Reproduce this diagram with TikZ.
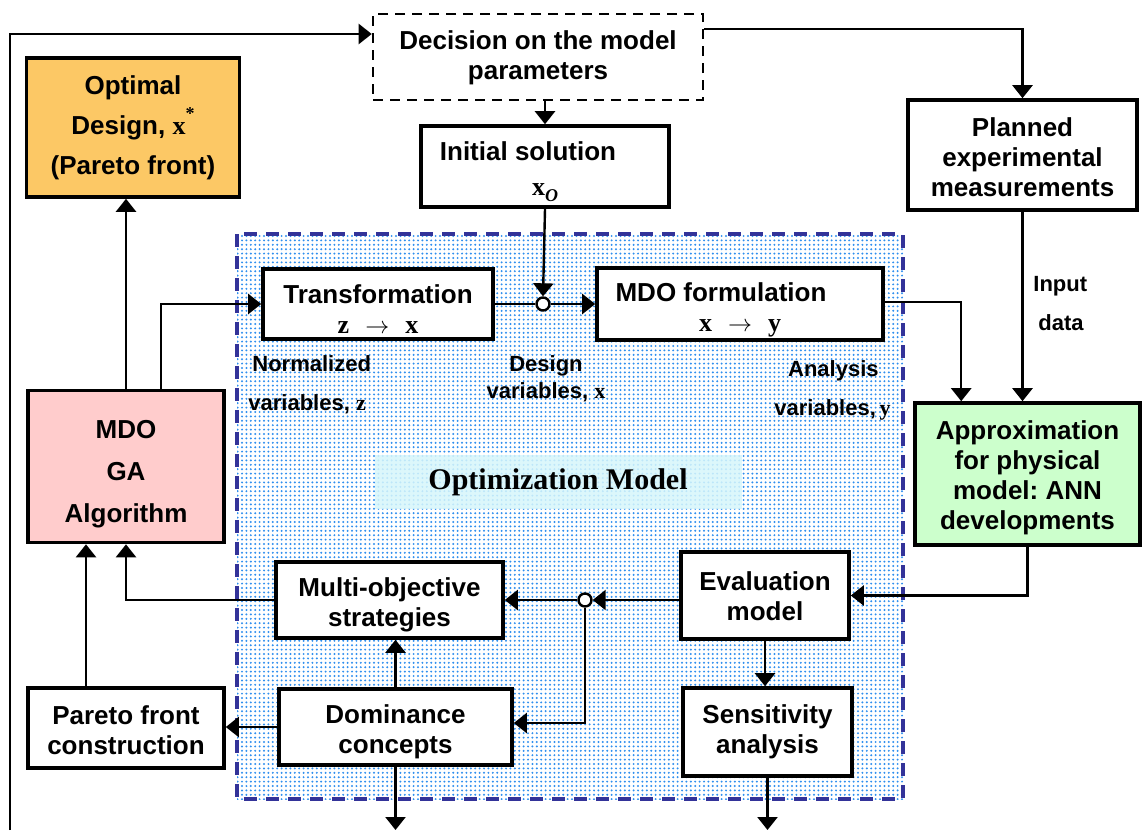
\documentclass[tikz,border=0pt]{standalone}
\usepackage{fontspec}
\setmainfont{Liberation Sans}
\newfontfamily\tms{Liberation Serif}
\usetikzlibrary{arrows.meta,patterns.meta,calc}
\definecolor{optc}{HTML}{FCC865}
\definecolor{gac}{HTML}{FFCCCC}
\definecolor{annc}{HTML}{CCFFCC}
\definecolor{frc}{HTML}{333399}
\definecolor{dotc}{HTML}{2F8FEF}
\definecolor{hlc}{HTML}{D6F6FB}
\newcommand\bxf{\fontsize{13}{15}\selectfont\bfseries}
\newcommand\lbf{\fontsize{11}{19.5}\selectfont\bfseries}
\newcommand\vb[1]{{\tms\bfseries #1}}
\newcommand\dn[1]{\rule{0pt}{#1}}
\frenchspacing
\begin{document}
\begin{tikzpicture}[x=0.5pt,y=-0.5pt,
 box/.style={draw, line width=1.8pt, fill=white, align=center, font=\bxf, inner sep=0pt},
 arr/.style={-{Triangle[length=6.5pt,width=10pt]}, line width=1.2pt},
 ln/.style={line width=1.2pt},
 lbl/.style={font=\lbf, align=center, inner sep=0pt},
 junc/.style={circle, draw, line width=1.2pt, fill=white, minimum size=6.5pt, inner sep=0pt}]
\useasboundingbox (0,0) rectangle (1143,830);
% optimization model region
\path[fill=white] (237,234) rectangle (903,799);
\path[pattern={Dots[distance=2.2pt,radius=0.55pt]}, pattern color=dotc] (237,234) rectangle (903,799);
\node[fill=hlc, fill opacity=0.85, text opacity=1, minimum width=183.5pt, minimum height=27pt, inner sep=0pt, font=\tms\bfseries\fontsize{15}{16}\selectfont] (om) at (558,482) {Optimization Model};
\draw[frc, line width=1.7pt, dash pattern=on 6.5pt off 4.5pt] (237,234) rectangle (903,799);

% boxes
\node[box, dash pattern=on 5pt off 3.5pt, line width=1.3pt, minimum width=165pt, minimum height=43pt] (dec) at (538,57) {\dn{10.4pt}Decision on the model\\parameters};
\node[box, fill=optc, minimum width=106.5pt, minimum height=69.5pt, font=\fontsize{13}{20}\selectfont\bfseries] (opt) at (133,127.5) {Optimal\\Design,~\vb{x}\raisebox{1.1ex}{\tms\bfseries\small *}\\(Pareto front)};
\node[box, minimum width=124pt, minimum height=40.5pt] (init) at (545,166.5) {\dn{14.4pt}Initial solution\hspace*{17pt}\\[2.5pt]\vb{x}\raisebox{-0.4ex}{\tms\itshape\fontsize{9}{9}\selectfont O}};
\node[box, minimum width=114.5pt, minimum height=55pt] (plan) at (1022.5,155) {\dn{11.4pt}Planned\\experimental\\measurements};
\node[box, minimum width=115pt, minimum height=35pt] (trans) at (378,304) {\dn{14.4pt}Transformation\\\vb{z}\hspace{8pt}$\rightarrow$\hspace{8pt}\vb{x}};
\node[box, minimum width=143pt, minimum height=36pt] (mdof) at (740,304) {\dn{15.4pt}MDO formulation\hspace*{19pt}\\\vb{x}\hspace{8pt}$\rightarrow$\hspace{8pt}\vb{y}};
\node[box, fill=annc, minimum width=112.5pt, minimum height=71pt] (approx) at (1027.5,474) {\dn{13.4pt}Approximation\\for physical\\model: ANN\\developments};
\node[box, fill=gac, minimum width=98pt, minimum height=76pt, font=\fontsize{13}{21}\selectfont\bfseries] (ga) at (126,466.5) {\dn{16.4pt}MDO\\GA\\Algorithm};
\node[box, minimum width=113.5pt, minimum height=38pt] (multi) at (389.5,600) {\dn{14.4pt}Multi-objective\\strategies};
\node[box, minimum width=116.5pt, minimum height=38pt] (dom) at (395.5,727) {\dn{14.4pt}Dominance\\concepts};
\node[box, minimum width=98pt, minimum height=40pt] (pareto) at (126,728) {\dn{11.4pt}Pareto front\\construction};
\node[box, minimum width=84pt, minimum height=43.5pt] (eval) at (765,595.5) {\dn{10.4pt}Evaluation\\model};
\node[box, minimum width=84.5pt, minimum height=44pt] (sens) at (767.5,732) {Sensitivity\\analysis};
\node[junc] (j1) at (543,304) {};
\node[junc] (j2) at (585,600) {};

% labels
\node[lbl, align=left, anchor=west] (nz) at (248,385) {\hspace*{2pt}Normalized\\variables,~\vb{z}};
\node[lbl, font=\fontsize{11}{13.5}\selectfont\bfseries] (dx) at (546,379) {Design\\variables,~\vb{x}};
\node[lbl, align=right, anchor=east] (ay) at (891,390) {Analysis\hspace*{6pt}\\variables,\,\vb{y}};
\node[lbl, align=left, anchor=west] (inp) at (1033,304) {Input\\\hspace*{2.5pt}data};

% connectors
\coordinate (ltop) at (10,34);
\coordinate (lbot) at (10,830);
\coordinate (bot) at (0,830);
\draw[arr] (lbot) -- (ltop) -- (ltop -| dec.west);
\draw[arr] ([yshift=14pt]dec.east) -| (plan.north);
\draw[arr] (dec.south -| init.north) -- (init.north);
\draw[arr] (init.south) -- (j1.north);
\draw[ln] (trans.east) -- (j1.west);
\draw[arr] (j1.east) -- (mdof.west);
\draw[arr] (ga.north) -- (ga.north |- opt.south);
\draw[arr] ([xshift=17.5pt]ga.north) |- (trans.west);
\draw[arr] ([yshift=1pt]mdof.east) -| ($(approx.north west)+(48,0)$);
\draw[arr] (plan.south) -- (plan.south |- approx.north);
\draw[arr] (approx.south) |- (eval.east);
\draw[arr] (eval.west |- j2) -- (j2.east);
\draw[arr] (j2.west) -- (j2 -| multi.east);
\draw[arr] (j2.south) |- ([yshift=2pt]dom.east);
\draw[arr] (dom.north) -- (dom.north |- multi.south);
\draw[arr] (dom.west) -- (dom.west -| pareto.east);
\draw[arr] (multi.west) -| (ga.south);
\draw[arr] ([xshift=-20pt]pareto.north) -- ([xshift=-20pt]ga.south);
\draw[arr] (dom.south) -- (dom.south |- bot);
\draw[arr] (eval.south) -- (eval.south |- sens.north);
\draw[arr] (sens.south) -- (sens.south |- bot);
\end{tikzpicture}
\end{document}
